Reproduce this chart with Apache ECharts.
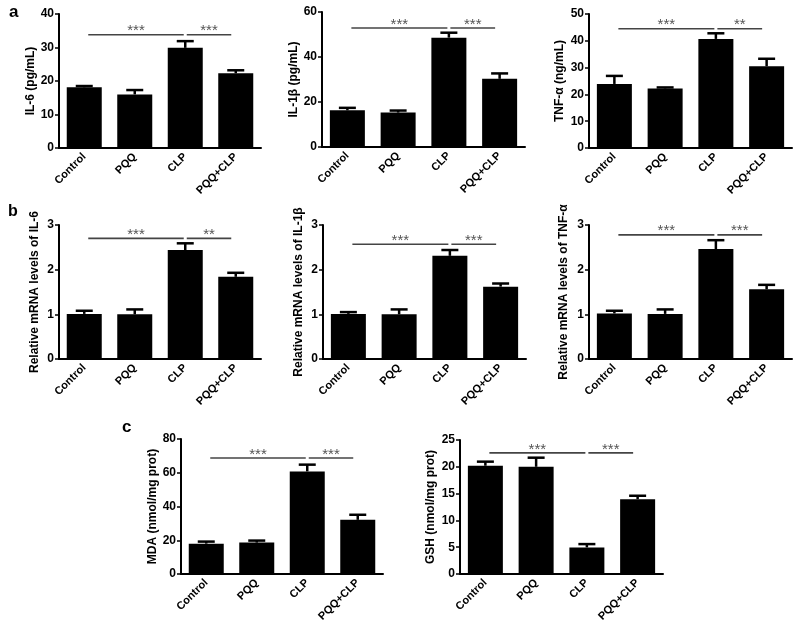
<!DOCTYPE html>
<html><head><meta charset="utf-8">
<script src="https://cdn.jsdelivr.net/npm/echarts@6/dist/echarts.min.js"></script>
<style>html,body{margin:0;padding:0;background:#fff}#c{width:800px;height:629px}</style>
</head><body><div id="c"></div>
<script>
const categories = ['Control', 'PQQ', 'CLP', 'PQQ+CLP'];

const il6Mean = [18.1, 16.0, 29.9, 22.3];
const il6Err = [0.4, 1.3, 2.0, 0.9];
const il6Sig = [[0, 2, 33.8, '***'], [2, 3, 33.8, '***']];

const il1bMean = [16.3, 15.3, 48.6, 30.3];
const il1bErr = [1.1, 0.9, 2.2, 2.4];
const il1bSig = [[0, 2, 52.9, '***'], [2, 3, 52.9, '***']];

const tnfMean = [23.9, 22.2, 40.7, 30.5];
const tnfErr = [3.0, 0.4, 2.1, 2.8];
const tnfSig = [[0, 2, 44.5, '***'], [2, 3, 44.5, '**']];

const il6mMean = [1.01, 1.00, 2.44, 1.84];
const il6mErr = [0.07, 0.11, 0.15, 0.09];
const il6mSig = [[0, 2, 2.70, '***'], [2, 3, 2.70, '**']];

const il1bmMean = [1.01, 1.00, 2.31, 1.62];
const il1bmErr = [0.04, 0.11, 0.13, 0.07];
const il1bmSig = [[0, 2, 2.57, '***'], [2, 3, 2.57, '***']];

const tnfmMean = [1.02, 1.01, 2.46, 1.56];
const tnfmErr = [0.06, 0.10, 0.20, 0.10];
const tnfmSig = [[0, 2, 2.78, '***'], [2, 3, 2.78, '***']];

const mdaMean = [18.0, 18.6, 60.8, 32.1];
const mdaErr = [1.2, 1.2, 4.0, 3.0];
const mdaSig = [[0, 2, 68.7, '***'], [2, 3, 68.7, '***']];

const gshMean = [20.2, 20.0, 4.96, 13.96];
const gshErr = [0.76, 1.7, 0.62, 0.64];
const gshSig = [[0, 2, 22.6, '***'], [2, 3, 22.6, '***']];

const FONT = '"Liberation Sans", Arial, Helvetica, sans-serif';

const panels = [
  {box: [59, 14, 202, 134], max: 40, interval: 10, name: 'IL-6 (pg/mL)', gap: 22, mean: il6Mean, err: il6Err, sig: il6Sig},
  {box: [322, 12, 203, 135], max: 60, interval: 20, name: 'IL-1β (pg/mL)', gap: 20, mean: il1bMean, err: il1bErr, sig: il1bSig},
  {box: [589, 14, 203, 134], max: 50, interval: 10, name: 'TNF-α (ng/mL)', gap: 23, mean: tnfMean, err: tnfErr, sig: tnfSig},
  {box: [59, 225, 202, 134], max: 3, interval: 1, name: 'Relative mRNA levels of IL-6', gap: 18, mean: il6mMean, err: il6mErr, sig: il6mSig},
  {box: [323, 225, 203, 134], max: 3, interval: 1, name: 'Relative mRNA levels of IL-1β', gap: 18, mean: il1bmMean, err: il1bmErr, sig: il1bmSig},
  {box: [589, 225, 203, 134], max: 3, interval: 1, name: 'Relative mRNA levels of TNF-α', gap: 19, mean: tnfmMean, err: tnfmErr, sig: tnfmSig},
  {box: [181, 439, 202, 135], max: 80, interval: 20, name: 'MDA (nmol/mg prot)', gap: 22, mean: mdaMean, err: mdaErr, sig: mdaSig},
  {box: [460, 440, 203, 134], max: 25, interval: 5, name: 'GSH (nmol/mg prot)', gap: 23, mean: gshMean, err: gshErr, sig: gshSig}
];

const grid = [], xAxis = [], yAxis = [], series = [];
panels.forEach((p, i) => {
  grid.push({left: p.box[0], top: p.box[1], width: p.box[2], height: p.box[3], containLabel: false});
  xAxis.push({
    type: 'category', gridIndex: i, data: categories,
    axisLine: {lineStyle: {color: '#000', width: 2}},
    axisTick: {alignWithLabel: true, length: 4, lineStyle: {color: '#000', width: 1.5}},
    axisLabel: {rotate: 45, color: '#000', fontFamily: FONT, fontWeight: 'bold', fontSize: 11, margin: 7, interval: 0},
    splitLine: {show: false}
  });
  yAxis.push({
    type: 'value', gridIndex: i, min: 0, max: p.max, interval: p.interval,
    name: p.name, nameLocation: 'middle', nameGap: p.gap,
    nameTextStyle: {color: '#000', fontFamily: FONT, fontWeight: 'bold', fontSize: 12},
    axisLine: {show: true, lineStyle: {color: '#000', width: 2}},
    axisTick: {show: true, length: 4, lineStyle: {color: '#000', width: 1.5}},
    axisLabel: {color: '#000', fontFamily: FONT, fontWeight: 'bold', fontSize: 12, margin: 5},
    splitLine: {show: false}
  });
  series.push({
    type: 'bar', xAxisIndex: i, yAxisIndex: i, data: p.mean, barWidth: 35,
    itemStyle: {color: '#000'}, silent: true, animation: false
  });
  series.push({
    type: 'custom', xAxisIndex: i, yAxisIndex: i, silent: true, animation: false,
    data: p.mean.map((m, k) => [k, m, p.err[k]]),
    renderItem: function (params, api) {
      const x = api.value(0), m = api.value(1), e = api.value(2);
      const p0 = api.coord([x, m]);
      const p1 = api.coord([x, m + e]);
      const half = 8.5;
      return {type: 'group', children: [
        {type: 'line', shape: {x1: p0[0], y1: p0[1], x2: p1[0], y2: p1[1]}, style: {stroke: '#000', lineWidth: 2.5}},
        {type: 'line', shape: {x1: p1[0] - half, y1: p1[1], x2: p1[0] + half, y2: p1[1]}, style: {stroke: '#000', lineWidth: 2.5}}
      ]};
    }
  });
  series.push({
    type: 'custom', xAxisIndex: i, yAxisIndex: i, silent: true, animation: false,
    data: p.sig,
    renderItem: function (params, api) {
      const s = api.value(0), e = api.value(1), y = api.value(2);
      const label = p.sig[params.dataIndex][3];
      const a = api.coord([s, y]), b = api.coord([e, y]);
      const padS = s === 2 ? 1.5 : 4;
      const padE = e === 2 ? 1.5 : 4.5;
      const x1 = a[0] + padS, x2 = b[0] - padE;
      return {type: 'group', children: [
        {type: 'line', shape: {x1: x1, y1: a[1], x2: x2, y2: a[1]}, style: {stroke: '#444', lineWidth: 1.6}},
        {type: 'text', x: (x1 + x2) / 2, y: a[1] + 4, style: {text: label, fill: '#555', font: '15px ' + FONT, textAlign: 'center', textVerticalAlign: 'bottom'}}
      ]};
    }
  });
});

const chart = echarts.init(document.getElementById('c'), null, {renderer: 'canvas'});
chart.setOption({
  animation: false,
  backgroundColor: '#fff',
  grid, xAxis, yAxis, series,
  graphic: [
    {type: 'text', left: 9, top: 4, style: {text: 'a', fill: '#000', font: 'bold 17px ' + FONT}},
    {type: 'text', left: 8, top: 204, style: {text: 'b', fill: '#000', font: 'bold 16px ' + FONT}},
    {type: 'text', left: 122, top: 419, style: {text: 'c', fill: '#000', font: 'bold 17px ' + FONT}}
  ]
});
</script></body></html>
